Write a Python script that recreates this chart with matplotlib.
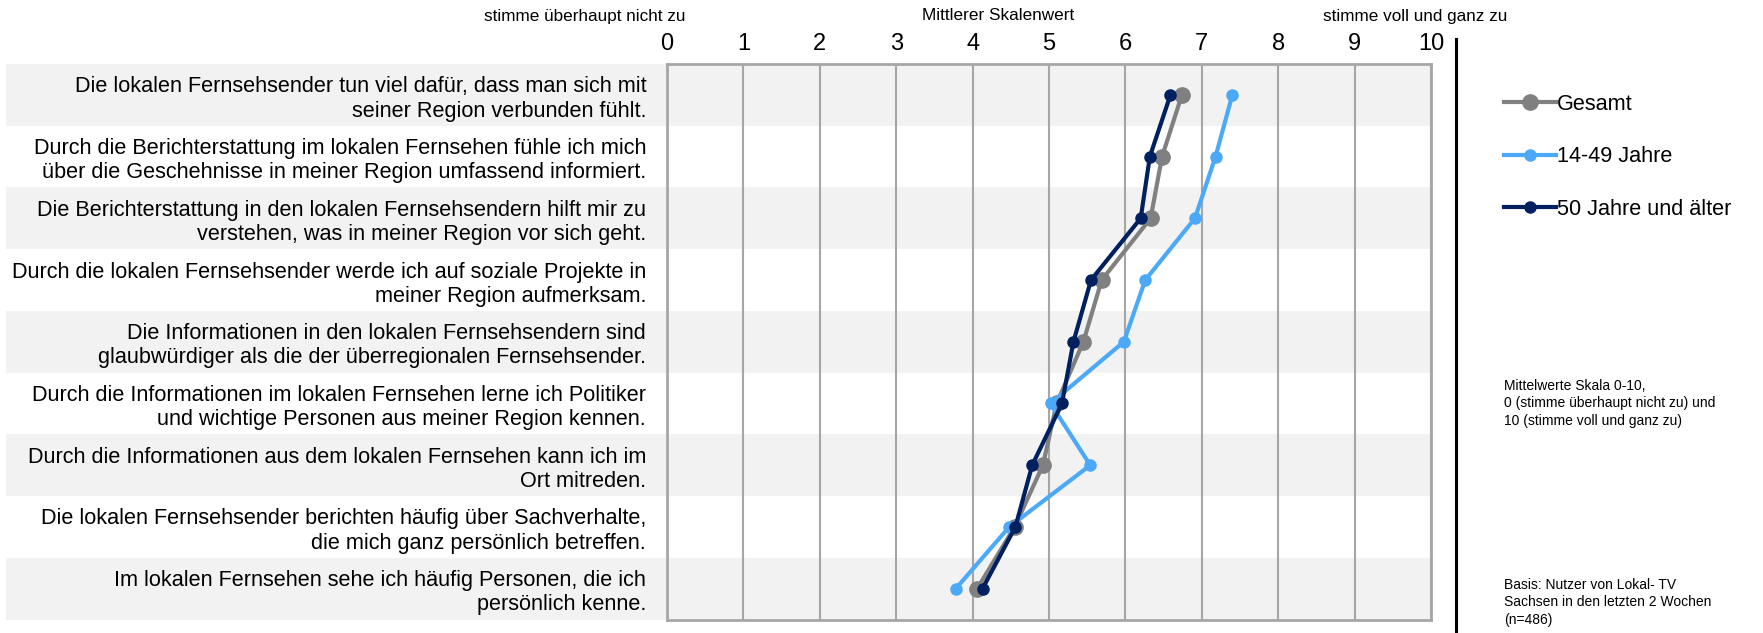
import matplotlib
matplotlib.use("Agg")
import matplotlib.pyplot as plt
from matplotlib.lines import Line2D
import numpy as np

plt.rcParams['font.family'] = ['Liberation Sans', 'DejaVu Sans']
NARROW = ['Liberation Sans Narrow', 'Liberation Sans', 'DejaVu Sans']

categories = [
    "Die lokalen Fernsehsender tun viel dafür, dass man sich mit\nseiner Region verbunden fühlt.",
    "Durch die Berichterstattung im lokalen Fernsehen fühle ich mich\nüber die Geschehnisse in meiner Region umfassend informiert.",
    "Die Berichterstattung in den lokalen Fernsehsendern hilft mir zu\nverstehen, was in meiner Region vor sich geht.",
    "Durch die lokalen Fernsehsender werde ich auf soziale Projekte in\nmeiner Region aufmerksam.",
    "Die Informationen in den lokalen Fernsehsendern sind\nglaubwürdiger als die der überregionalen Fernsehsender.",
    "Durch die Informationen im lokalen Fernsehen lerne ich Politiker\nund wichtige Personen aus meiner Region kennen.",
    "Durch die Informationen aus dem lokalen Fernsehen kann ich im\nOrt mitreden.",
    "Die lokalen Fernsehsender berichten häufig über Sachverhalte,\ndie mich ganz persönlich betreffen.",
    "Im lokalen Fernsehen sehe ich häufig Personen, die ich\npersönlich kenne.",
]
gesamt = [6.74, 6.48, 6.33, 5.69, 5.45, 5.10, 4.92, 4.55, 4.06]
jung = [7.40, 7.18, 6.91, 6.26, 5.98, 5.02, 5.54, 4.48, 3.78]
alt = [6.59, 6.32, 6.20, 5.55, 5.32, 5.17, 4.78, 4.56, 4.13]
series_names = ["Gesamt", "14-49 Jahre", "50 Jahre und älter"]
xticks = list(range(0, 11))

W, H = 1763, 633
fig = plt.figure(figsize=(W / 100, H / 100), dpi=100)
ax_l, ax_r, ax_t, ax_b = 667, 1431, 64, 619.5
ax = fig.add_axes([ax_l / W, 1 - ax_b / H, (ax_r - ax_l) / W, (ax_b - ax_t) / H])

n = len(categories)
y = np.arange(n)
grid_c = "#A6A6A6"
band_c = "#F2F2F2"

xmin_band = -(ax_l - 6) / (ax_r - ax_l)
for i in range(n):
    if i % 2 == 0:
        ax.axhspan(i - 0.5, i + 0.5, xmin=xmin_band, xmax=1, color=band_c,
                   zorder=0, clip_on=False, lw=0)

for xv in xticks:
    ax.axvline(xv, color=grid_c, lw=1.5, zorder=1)

c_g, c_j, c_a = "#808080", "#4BA9F7", "#002060"
ax.plot(gesamt, y, color=c_g, lw=3, marker="o", ms=11, zorder=3)
ax.plot(jung, y, color=c_j, lw=3, marker="o", ms=8, zorder=4)
ax.plot(alt, y, color=c_a, lw=3, marker="o", ms=8, zorder=5)

ax.set_xlim(0, 10)
ax.set_ylim(n - 0.5, -0.5)
ax.xaxis.tick_top()
ax.set_xticks(xticks)
ax.set_xticklabels([str(v) for v in xticks], fontsize=17, family=NARROW)
ax.tick_params(axis="x", length=0, pad=6.5)
ax.set_yticks(y)
ax.set_yticklabels(categories, fontsize=15.6, linespacing=1.2)
for lab in ax.get_yticklabels():
    lab.set_horizontalalignment("right")
ax.tick_params(axis="y", length=0, pad=15)
for s in ax.spines.values():
    s.set_color(grid_c)
    s.set_linewidth(2)
ax.set_facecolor("none")

# header texts
fig.text(585 / W, 1 - 16 / H, "stimme überhaupt nicht zu", ha="center", va="center",
         fontsize=12.3, family=NARROW)
fig.text(998 / W, 1 - 16 / H, "Mittlerer Skalenwert", ha="center", va="center",
         fontsize=12.3, family=NARROW)
fig.text(1415 / W, 1 - 16 / H, "stimme voll und ganz zu", ha="center", va="center",
         fontsize=12.3, family=NARROW)

# vertical separator
fig.add_artist(Line2D([1456 / W, 1456 / W], [0, 1 - 39 / H], color="black", lw=2.2,
                      transform=fig.transFigure))

# legend
handles = [
    Line2D([], [], color=c_g, lw=3, marker="o", ms=11),
    Line2D([], [], color=c_j, lw=3, marker="o", ms=8),
    Line2D([], [], color=c_a, lw=3, marker="o", ms=8),
]
fig.legend(handles, series_names, loc="upper left", bbox_to_anchor=(1504 / W, 1 - 94 / H),
           frameon=False, fontsize=15.6, handlelength=2.4, handletextpad=0.05,
           labelspacing=1.45, borderaxespad=0, borderpad=0)

fig.text(1504 / W, 1 - 379 / H,
         "Mittelwerte Skala 0-10,\n0 (stimme überhaupt nicht zu) und\n10 (stimme voll und ganz zu)",
         ha="left", va="top", fontsize=10, linespacing=1.3)
fig.text(1504 / W, 1 - 578 / H,
         "Basis: Nutzer von Lokal- TV\nSachsen in den letzten 2 Wochen\n(n=486)",
         ha="left", va="top", fontsize=10, linespacing=1.3)

fig.savefig("out.png", dpi=100)
